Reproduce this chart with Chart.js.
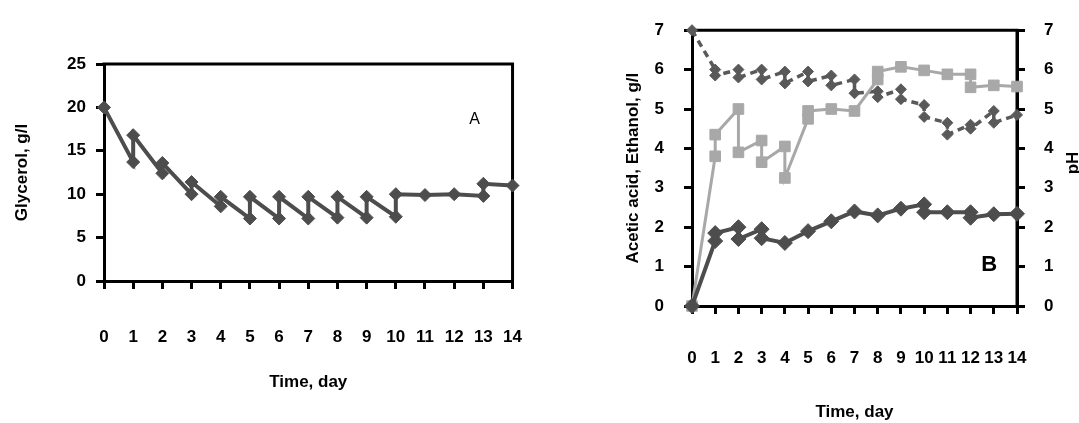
<!DOCTYPE html>
<html>
<head>
<meta charset="utf-8">
<script src="https://cdn.jsdelivr.net/npm/chart.js@4"></script>
<style>
  html, body { margin: 0; padding: 0; background: #fff; }
  #wrap { position: relative; width: 1079px; height: 423px; overflow: hidden; }
  canvas { position: absolute; top: 0; }
</style>
</head>
<body>
<div id="wrap">
  <canvas id="chartA" width="560" height="423" style="left:0"></canvas>
  <canvas id="chartB" width="519" height="423" style="left:560px"></canvas>
</div>
<script>
// Panel A - glycerol (sawtooth: sample before / after each feed)
const glycerolDay = [0, 1, 1, 2, 2, 3, 3, 4, 4, 5, 5, 6, 6, 7, 7, 8, 8, 9, 9, 10, 10, 11, 12, 13, 13, 14];
const glycerolVal = [20, 13.7, 16.8, 12.4, 13.6, 10, 11.4, 8.6, 9.7, 7.2, 9.7, 7.2, 9.7, 7.2, 9.7, 7.3, 9.7, 7.3, 9.7, 7.4, 10, 9.9, 10, 9.8, 11.2, 11];

// Panel B - acetic acid, ethanol (left axis) and pH (right axis)
const aceticDay = [0, 1, 1, 2, 2, 3, 3, 4, 5, 6, 7, 8, 9, 10, 10, 11, 12, 12, 13, 14];
const aceticVal = [0, 1.65, 1.85, 2.0, 1.7, 1.95, 1.72, 1.6, 1.9, 2.15, 2.4, 2.3, 2.47, 2.58, 2.38, 2.38, 2.38, 2.24, 2.33, 2.34];

const ethanolDay = [0, 1, 1, 2, 2, 3, 3, 4, 4, 5, 5, 6, 7, 8, 8, 9, 10, 11, 12, 12, 13, 14];
const ethanolVal = [0, 3.8, 4.35, 5.0, 3.9, 4.2, 3.65, 4.05, 3.25, 4.75, 4.95, 5.0, 4.95, 5.75, 5.95, 6.07, 5.98, 5.88, 5.88, 5.55, 5.6, 5.57];

const phDay = [0, 1, 1, 2, 2, 3, 3, 4, 4, 5, 5, 6, 6, 7, 7, 8, 8, 9, 9, 10, 10, 11, 11, 12, 12, 13, 13, 14];
const phVal = [7, 6.0, 5.85, 6.0, 5.8, 6.0, 5.75, 5.95, 5.65, 5.95, 5.7, 5.85, 5.6, 5.75, 5.4, 5.45, 5.3, 5.5, 5.25, 5.1, 4.8, 4.65, 4.35, 4.6, 4.5, 4.95, 4.65, 4.85];

const dayRange = [0, 14];
const glycerolRange = [0, 25];
const concRange = [0, 7];
const phRange = [0, 7];

const FONT = "'Liberation Sans Narrow', 'Liberation Sans', Arial, sans-serif";
Chart.defaults.font.family = FONT;
Chart.defaults.color = '#000';

const toPoints = (xs, ys) => xs.map((x, i) => ({ x: x, y: ys[i] }));

const tickGrid = { display: true, drawOnChartArea: false, drawTicks: true, tickLength: 8, tickWidth: 3, tickColor: '#000', color: '#000', lineWidth: 3 };
const axisBorder = { display: true, width: 3, color: '#000' };
const tickFont = { size: 17, weight: 'bold' };
const titleFont = { size: 17, weight: 'bold' };

function series(label, xs, ys, color, style, radius, width, dash, yAxis) {
  return {
    label: label,
    data: toPoints(xs, ys),
    showLine: true,
    borderColor: color,
    backgroundColor: color,
    pointBackgroundColor: color,
    pointBorderColor: color,
    pointBorderWidth: 1,
    borderWidth: width,
    borderDash: dash,
    pointStyle: style,
    pointRadius: radius,
    pointHoverRadius: radius,
    tension: 0,
    clip: false,
    yAxisID: yAxis || 'y'
  };
}

// top/right frame plus panel text
function framePlugin(extra) {
  return {
    id: 'frame',
    beforeDatasetsDraw(chart) {
      const { ctx, chartArea: a } = chart;
      ctx.save();
      ctx.lineWidth = 3;
      ctx.strokeStyle = '#000';
      ctx.beginPath();
      ctx.moveTo(a.left - 1.5, a.top);
      ctx.lineTo(a.right, a.top);
      ctx.lineTo(a.right, a.bottom);
      ctx.stroke();
      ctx.restore();
    },
    afterDraw(chart) {
      const ctx = chart.ctx;
      ctx.save();
      ctx.fillStyle = '#000';
      extra(chart, ctx);
      ctx.restore();
    }
  };
}

new Chart(document.getElementById('chartA'), {
  type: 'scatter',
  data: {
    datasets: [series('Glycerol', glycerolDay, glycerolVal, '#4d4d4d', 'rectRot', 6.5, 4, [])]
  },
  options: {
    responsive: false,
    animation: false,
    devicePixelRatio: 1,
    layout: { padding: { top: 64, right: 38, left: 0, bottom: 0 } },
    plugins: { legend: { display: false }, tooltip: { enabled: false } },
    scales: {
      x: {
        type: 'linear', min: dayRange[0], max: dayRange[1],
        afterFit: s => { s.height = 142; },
        ticks: { stepSize: 1, autoSkip: false, maxRotation: 0, padding: 38, font: tickFont },
        grid: tickGrid, border: axisBorder,
        title: { display: true, text: 'Time, day', font: titleFont, padding: { top: 0, bottom: 30 } }
      },
      y: {
        min: glycerolRange[0], max: glycerolRange[1],
        afterFit: s => { s.width = 104; },
        ticks: { stepSize: 5, padding: 10, font: tickFont },
        grid: tickGrid, border: axisBorder,
        title: { display: true, text: 'Glycerol, g/l', font: titleFont, padding: { top: 12, bottom: 0 } }
      }
    }
  },
  plugins: [framePlugin((chart, ctx) => {
    ctx.font = '16px ' + FONT;
    ctx.textAlign = 'center';
    ctx.textBaseline = 'middle';
    ctx.fillText('A', chart.scales.x.getPixelForValue(12.7), chart.scales.y.getPixelForValue(18.6));
  })]
});

new Chart(document.getElementById('chartB'), {
  type: 'scatter',
  data: {
    datasets: [
      series('Acetic acid', aceticDay, aceticVal, '#4d4d4d', 'rectRot', 7.5, 4, []),
      series('Ethanol', ethanolDay, ethanolVal, '#a8a8a8', 'rect', 7.5, 3, []),
      series('pH', phDay, phVal, '#595959', 'rectRot', 5.5, 3.5, [7, 5], 'y1')
    ]
  },
  options: {
    responsive: false,
    animation: false,
    devicePixelRatio: 1,
    layout: { padding: { top: 24, right: 0, left: 0, bottom: 0 } },
    plugins: { legend: { display: false }, tooltip: { enabled: false } },
    scales: {
      x: {
        type: 'linear', min: dayRange[0], max: dayRange[1],
        afterFit: s => { s.height = 117; },
        ticks: { stepSize: 1, autoSkip: false, maxRotation: 0, padding: 34, font: tickFont },
        grid: tickGrid, border: axisBorder,
        title: { display: true, text: 'Time, day', font: titleFont, padding: { top: 0, bottom: 0 } }
      },
      y: {
        min: concRange[0], max: concRange[1],
        afterFit: s => { s.width = 132; },
        ticks: { stepSize: 1, padding: 20, font: tickFont },
        grid: tickGrid, border: axisBorder,
        title: { display: true, text: 'Acetic acid, Ethanol, g/l', font: titleFont, padding: { top: 63, bottom: 0 } }
      },
      y1: {
        position: 'right',
        min: phRange[0], max: phRange[1],
        afterFit: s => { s.width = 62; },
        ticks: { stepSize: 1, padding: 19, font: tickFont },
        grid: tickGrid, border: axisBorder
      }
    }
  },
  plugins: [framePlugin((chart, ctx) => {
    ctx.font = 'bold 22px ' + FONT;
    ctx.textAlign = 'center';
    ctx.textBaseline = 'middle';
    ctx.fillText('B', chart.scales.x.getPixelForValue(12.8), chart.scales.y.getPixelForValue(1.05));
    ctx.translate(513, 163);
    ctx.rotate(-Math.PI / 2);
    ctx.font = 'bold 17px ' + FONT;
    ctx.fillText('pH', 0, 0);
  })]
});
</script>
</body>
</html>
